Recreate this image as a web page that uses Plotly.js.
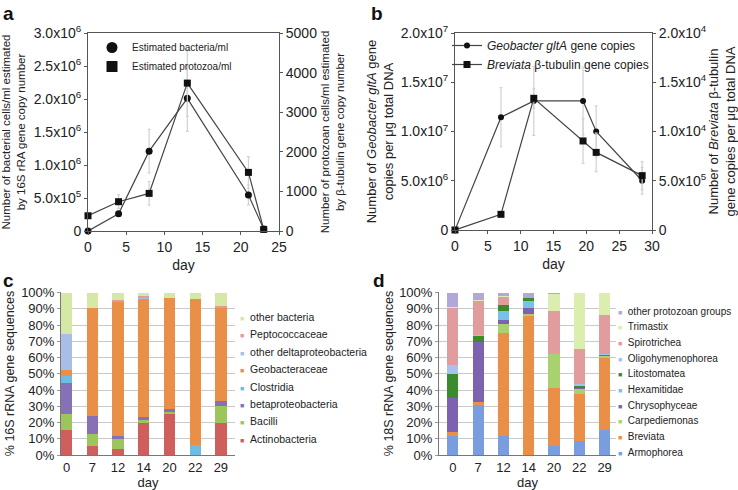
<!DOCTYPE html>
<html>
<head>
<meta charset="utf-8">
<script src="https://cdn.plot.ly/plotly-3.0.1.min.js"></script>
<style>
html, body { margin: 0; padding: 0; background: #fff; }
#plot { width: 738px; height: 490px; }
</style>
</head>
<body>
<div id="plot"></div>
<script>
// panel a: qPCR estimates of cells per ml
const daysA = [0, 4, 8, 13, 21, 23];
const bacteriaA = [0, 2.6e5, 1.21e6, 2.01e6, 5.45e5, 3e4];
const bacteriaErrA = [0, 0, 3.3e5, 5e5, 1.5e5, 0];
const protozoaA = [385, 740, 950, 3735, 1480, 40];
const protozoaErrA = [0, 170, 300, 840, 400, 0];

// panel b: gene copies per ug DNA
const daysB = [0, 7, 12, 19.5, 21.5, 28.5];
const geobacterB = [0, 1.145e7, 1.31e7, 1.31e7, 1.0e7, 5.0e6];
const geobacterErrB = [0, 3.0e6, 3.5e6, 3.45e6, 2.6e6, 1.35e6];
const breviataB = [0, 1590, 13370, 9040, 7880, 5520];
const breviataErrB = [0, 0, 1000, 2270, 1960, 1420];

// tick labels
const ticksA = [0, 5e5, 1e6, 1.5e6, 2e6, 2.5e6, 3e6];
const tickTextA = ['0', '5.0x10<sup>5</sup>', '1.0x10<sup>6</sup>', '1.5x10<sup>6</sup>', '2.0x10<sup>6</sup>', '2.5x10<sup>6</sup>', '3.0x10<sup>6</sup>'];
const ticksB = [0, 5e6, 1e7, 1.5e7, 2e7];
const tickTextB = ['0', '5.0x10<sup>6</sup>', '1.0x10<sup>7</sup>', '1.5x10<sup>7</sup>', '2.0x10<sup>7</sup>'];
const ticksB2 = [0, 5e3, 1e4, 1.5e4, 2e4];
const tickTextB2 = ['0', '5.0x10<sup>5</sup>', '1.0x10<sup>4</sup>', '1.5x10<sup>4</sup>', '2.0x10<sup>4</sup>'];
const pctTicks = [0, 10, 20, 30, 40, 50, 60, 70, 80, 90, 100];
const pctText = ['0%', '10%', '20%', '30%', '40%', '50%', '60%', '70%', '80%', '90%', '100%'];

// panels c and d: sampling days
const days = ['0', '7', '12', '14', '20', '22', '29'];

// panel c: % 16S rRNA gene sequences (stack order bottom -> top)
const bacteriaGroups = ['Actinobacteria', 'Bacilli', 'betaproteobacteria', 'Clostridia', 'Geobacteraceae', 'other deltaproteobacteria', 'Peptococcaceae', 'other bacteria'];
const bacteriaColors = ['#cf5f5c', '#9cc55c', '#8670b6', '#6fbbe2', '#e98f47', '#a9bde9', '#e49a9c', '#d6e8a6'];
const actinobacteria = [15.5, 5.5, 3.5, 20, 25.5, 0, 19.5];
const bacilli = [9.5, 7.5, 6.5, 1.5, 1, 0, 10.5];
const betaproteobacteria = [19.5, 11, 1.5, 2, 2, 0, 3.5];
const clostridia = [4, 0, 0, 0, 0, 6, 0];
const geobacteraceae = [4, 66.7, 82.8, 72.5, 68.5, 90, 57];
const otherDelta = [22.3, 0, 0, 1, 0, 0, 0];
const peptococcaceae = [0, 0, 1.2, 1, 0, 0, 1.2];
const otherBacteria = [25.2, 9.3, 4.5, 2, 3, 4, 8.3];
const bacteriaSeries = [actinobacteria, bacilli, betaproteobacteria, clostridia, geobacteraceae, otherDelta, peptococcaceae, otherBacteria];

// panel d: % 18S rRNA gene sequences (stack order bottom -> top)
const protozoaGroups = ['Armophorea', 'Breviata', 'Carpediemonas', 'Chrysophyceae', 'Hexamitidae', 'Litostomatea', 'Oligohymenophorea', 'Spirotrichea', 'Trimastix', 'other protozoan groups'];
const protozoaColors = ['#7a9de0', '#e98f47', '#a9d16f', '#7d62b0', '#77c2e8', '#3b8a2c', '#a8c1ee', '#e19c9e', '#dcedb0', '#b3a6d9'];
const armophorea = [12, 30.5, 11.4, 0, 5.7, 8.5, 15.4];
const breviata = [2, 2.2, 64, 85.8, 35.6, 29.3, 44.4];
const carpediemonas = [0, 0, 5, 1, 20.9, 2.9, 1];
const chrysophyceae = [21, 36.6, 2.5, 4, 0, 0.5, 1];
const hexamitidae = [0, 0, 5.6, 4, 0, 0, 0];
const litostomatea = [14.8, 4.1, 4.1, 1.7, 0, 1, 0];
const oligohymenophorea = [5.4, 0.6, 0, 0, 0, 1.5, 0.5];
const spirotrichea = [35.2, 20.7, 4.6, 0, 26.8, 21.5, 23.9];
const trimastix = [0.5, 1, 0.8, 0, 10.2, 34.8, 13.8];
const otherProtozoa = [9.1, 4.3, 2, 3.5, 0.8, 0, 0];
const protozoaSeries = [armophorea, breviata, carpediemonas, chrysophyceae, hexamitidae, litostomatea, oligohymenophorea, spirotrichea, trimastix, otherProtozoa];

const FONT = 'Liberation Sans, Arial, Helvetica, sans-serif';
const INK = '#222';
const AXIS = '#555';
const W = 738, H = 490;
const px = (x) => x / W;
const py = (y) => 1 - y / H;

function lineTrace(x, y, err, symbol, size, xa, ya) {
	return {
		type: 'scatter', x, y, xaxis: xa, yaxis: ya,
		mode: 'lines+markers', showlegend: false, cliponaxis: false, hoverinfo: 'x+y',
		line: {color: '#444', width: 1.2},
		marker: {symbol, size, color: '#111'},
		error_y: {type: 'data', array: err, visible: true, color: '#d2d2d2', thickness: 1.2, width: 1.5},
	};
}

function legendOnly(name, symbol, size, mode, legend) {
	return {
		type: 'scatter', x: [null], y: [null], xaxis: 'x', yaxis: 'y',
		mode, name, legend, showlegend: true,
		line: {color: '#444', width: 1.2},
		marker: {symbol, size, color: '#111'},
	};
}

function stackTraces(series, names, colors, xa, ya) {
	return series.map((vals, i) => ({
		type: 'bar', x: days, y: vals, name: names[i], xaxis: xa, yaxis: ya,
		showlegend: false,
		marker: {color: colors[i], line: {width: 0}},
	}));
}

// legends for c/d drawn as text rows (top item = top of stack)
function legendNotes(names, colors, xLeft, yFirst, step, size) {
	const n = names.length;
	return names.slice().reverse().map((name, i) => ({
		xref: 'paper', yref: 'paper', x: px(xLeft), y: py(yFirst + i * step),
		xanchor: 'left', yanchor: 'middle', showarrow: false, align: 'left',
		text: '<span style="color:' + colors[n - 1 - i] + ';font-size:7px">\u25A0</span>\u00a0\u00a0' + name,
		font: {family: FONT, size, color: INK},
	}));
}

function panelLetter(letter, x, y) {
	return {
		xref: 'paper', yref: 'paper', x: px(x), y: py(y), xanchor: 'left', yanchor: 'top',
		showarrow: false, text: '<b>' + letter + '</b>',
		font: {family: FONT, size: 19, color: '#111'},
	};
}

function visualize() {
	const data = [
		lineTrace(daysA, bacteriaA, bacteriaErrA, 'circle', 7, 'x', 'y'),
		lineTrace(daysA, protozoaA, protozoaErrA, 'square', 7, 'x', 'y2'),
		lineTrace(daysB, geobacterB, geobacterErrB, 'circle', 6, 'x2', 'y3'),
		lineTrace(daysB, breviataB, breviataErrB, 'square', 7, 'x2', 'y4'),
		legendOnly('Estimated bacteria/ml', 'circle', 11, 'markers', 'legend'),
		legendOnly('Estimated protozoa/ml', 'square', 11, 'markers', 'legend'),
		legendOnly('<i>Geobacter gltA</i> gene copies', 'circle', 6, 'lines+markers', 'legend2'),
		legendOnly('<i>Breviata</i> \u03B2-tubulin gene copies', 'square', 7, 'lines+markers', 'legend2'),
		...stackTraces(bacteriaSeries, bacteriaGroups, bacteriaColors, 'x3', 'y5'),
		...stackTraces(protozoaSeries, protozoaGroups, protozoaColors, 'x4', 'y6'),
	];

	const tickFont = {family: FONT, size: 14, color: INK};
	const barTickFont = {family: FONT, size: 13, color: INK};
	const boxAxis = {
		showline: true, linecolor: AXIS, linewidth: 1, ticks: 'outside', ticklen: 3,
		tickcolor: AXIS, showgrid: false, zeroline: false, tickfont: tickFont,
	};
	const barY = {
		range: [0, 100.4], tickvals: pctTicks, ticktext: pctText,
		showgrid: true, gridcolor: '#c9c9c9', gridwidth: 1, showline: true, linecolor: '#777',
		ticks: 'outside', ticklen: 3, tickcolor: '#999', zeroline: false, tickfont: barTickFont,
	};
	const barX = {
		type: 'category', showline: true, linecolor: '#777', ticks: '', showgrid: false,
		tickfont: barTickFont,
	};

	const layout = {
		width: W, height: H,
		margin: {l: 0, r: 0, t: 0, b: 0},
		paper_bgcolor: '#fff', plot_bgcolor: 'rgba(0,0,0,0)',
		font: {family: FONT, color: INK},
		barmode: 'stack', bargap: 0.56,
		showlegend: true,
		legend: {
			x: px(92), y: py(33), xanchor: 'left', yanchor: 'top', bgcolor: 'rgba(0,0,0,0)',
			traceorder: 'normal', font: {family: FONT, size: 10, color: INK}, tracegroupgap: 0,
		},
		legend2: {
			x: px(447), y: py(31), xanchor: 'left', yanchor: 'top', bgcolor: 'rgba(0,0,0,0)',
			traceorder: 'normal', font: {family: FONT, size: 12, color: INK}, tracegroupgap: 0,
		},
		xaxis: Object.assign({}, boxAxis, {
			domain: [px(88), px(279)], anchor: 'y', range: [0, 25], tickvals: [0, 5, 10, 15, 20, 25],
			mirror: true, title: {text: 'day', font: {size: 14}, standoff: 6},
		}),
		yaxis: Object.assign({}, boxAxis, {
			domain: [py(231), py(33)], anchor: 'x', range: [0, 3e6], tickvals: ticksA, ticktext: tickTextA,
			title: {text: 'Number of bacterial cells/ml estimated<br>by 16S rRA gene copy number', font: {size: 11.5}, standoff: 5},
		}),
		yaxis2: Object.assign({}, boxAxis, {
			overlaying: 'y', side: 'right', anchor: 'x', range: [0, 5000], tickvals: [0, 1000, 2000, 3000, 4000, 5000],
			title: {text: 'Number of protozoan cells/ml estimated<br>by \u03B2-tubulin gene copy number', font: {size: 11.5}, standoff: 4},
		}),
		xaxis2: Object.assign({}, boxAxis, {
			domain: [px(455), px(652)], anchor: 'y3', range: [0, 30], tickvals: [0, 5, 10, 15, 20, 25, 30],
			mirror: true, title: {text: 'day', font: {size: 14}, standoff: 6},
		}),
		yaxis3: Object.assign({}, boxAxis, {
			domain: [py(230), py(33)], anchor: 'x2', range: [0, 2e7], tickvals: ticksB, ticktext: tickTextB,
			title: {text: 'Number of <i>Geobacter gltA</i> gene<br>copies per \u03BCg total DNA', font: {size: 13}, standoff: 4},
		}),
		yaxis4: Object.assign({}, boxAxis, {
			overlaying: 'y3', side: 'right', anchor: 'x2', range: [0, 2e4], tickvals: ticksB2, ticktext: tickTextB2,
			title: {text: 'Number of <i>Breviata</i> \u03B2-tubulin<br>gene copies per \u03BCg total DNA', font: {size: 13}, standoff: 2},
		}),
		xaxis3: Object.assign({}, barX, {
			domain: [px(61), px(235)], anchor: 'y5', range: [-0.22, 6.55],
			title: {text: 'day', font: {size: 13}, standoff: 11},
		}),
		yaxis5: Object.assign({}, barY, {
			domain: [py(455), py(292)], anchor: 'x3',
			title: {text: '% 16S rRNA gene sequences', font: {size: 12.5}, standoff: 3},
		}),
		xaxis4: Object.assign({}, barX, {
			domain: [px(439), px(616)], anchor: 'y6', range: [-0.55, 6.45],
			title: {text: 'day', font: {size: 13}, standoff: 11},
		}),
		yaxis6: Object.assign({}, barY, {
			domain: [py(455), py(292)], anchor: 'x4',
			title: {text: '% 18S rRNA gene sequences', font: {size: 12.5}, standoff: 2},
		}),
		annotations: [
			panelLetter('a', 1, 1),
			panelLetter('b', 369, 1),
			panelLetter('c', 1, 268),
			panelLetter('d', 371, 268),
			...legendNotes(bacteriaGroups, bacteriaColors, 238, 317, 17.4, 10.5),
			...legendNotes(protozoaGroups, protozoaColors, 616, 311, 15.67, 10),
		],
	};

	Plotly.newPlot('plot', data, layout, {staticPlot: true});
}

visualize();
</script>
</body>
</html>
